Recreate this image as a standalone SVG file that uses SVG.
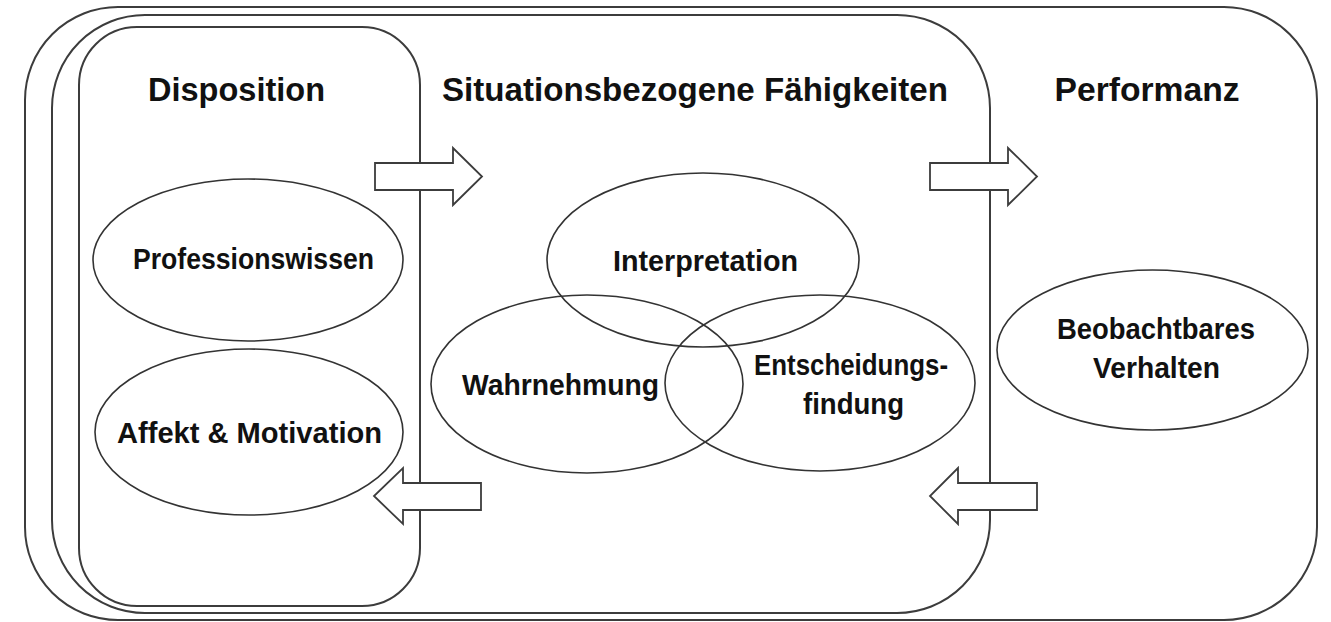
<svg xmlns="http://www.w3.org/2000/svg" width="1331" height="622" viewBox="0 0 1331 622">
<style>
.frame{fill:none;stroke:#3c3c3c;stroke-width:2}
.ell{fill:none;stroke:#333;stroke-width:1.6}
.arr{fill:#fff;stroke:#3c3c3c;stroke-width:1.8;stroke-linejoin:miter}
.title{font-family:"Liberation Sans",Arial,sans-serif;font-weight:bold;font-size:34px;fill:#111;text-anchor:middle}
.lbl{font-family:"Liberation Sans",Arial,sans-serif;font-weight:bold;font-size:29px;fill:#111;text-anchor:middle}
</style>
<rect width="1331" height="622" fill="#fff"/>
<g id="frames">
  <rect id="performanz-frame" class="frame" x="25" y="7" width="1292" height="613" rx="93" ry="93"/>
  <rect id="situation-frame" class="frame" x="52" y="15" width="938" height="598" rx="93" ry="93"/>
  <rect id="disposition-frame" class="frame" x="79" y="27" width="341" height="579" rx="58" ry="58"/>
</g>
<g id="titles">
  <text class="title" x="236.5" y="101" textLength="177" lengthAdjust="spacingAndGlyphs">Disposition</text>
  <text class="title" x="695" y="101" textLength="506" lengthAdjust="spacingAndGlyphs">Situationsbezogene Fähigkeiten</text>
  <text class="title" x="1147" y="101" textLength="185" lengthAdjust="spacingAndGlyphs">Performanz</text>
</g>
<g id="node-professionswissen">
  <ellipse class="ell" cx="248" cy="260" rx="155" ry="81"/>
  <text class="lbl" x="253.5" y="269" textLength="241" lengthAdjust="spacingAndGlyphs">Professionswissen</text>
</g>
<g id="node-affekt">
  <ellipse class="ell" cx="249" cy="432" rx="154" ry="83"/>
  <text class="lbl" x="249.5" y="443" textLength="265" lengthAdjust="spacingAndGlyphs">Affekt &amp; Motivation</text>
</g>
<g id="node-interpretation">
  <ellipse class="ell" cx="703" cy="260" rx="156" ry="87"/>
  <text class="lbl" x="705.5" y="271" textLength="185" lengthAdjust="spacingAndGlyphs">Interpretation</text>
</g>
<g id="node-wahrnehmung">
  <ellipse class="ell" cx="587" cy="384" rx="156" ry="89"/>
  <text class="lbl" x="560.5" y="395" textLength="197" lengthAdjust="spacingAndGlyphs">Wahrnehmung</text>
</g>
<g id="node-entscheidungsfindung">
  <ellipse class="ell" cx="820" cy="383" rx="155" ry="88"/>
  <text class="lbl" x="851" y="375" textLength="194" lengthAdjust="spacingAndGlyphs">Entscheidungs-</text>
  <text class="lbl" x="853.5" y="414" textLength="101" lengthAdjust="spacingAndGlyphs">findung</text>
</g>
<g id="node-verhalten">
  <ellipse class="ell" cx="1152.5" cy="350" rx="155.5" ry="80"/>
  <text class="lbl" x="1156" y="339" textLength="198" lengthAdjust="spacingAndGlyphs">Beobachtbares</text>
  <text class="lbl" x="1156.5" y="378" textLength="127" lengthAdjust="spacingAndGlyphs">Verhalten</text>
</g>
<g id="connectors">
  <path class="arr" d="M375,163 L453,163 L453,148 L482,176.5 L453,205 L453,190 L375,190 Z"/>
  <path class="arr" d="M930,163 L1008,163 L1008,148 L1037,176.5 L1008,205 L1008,190 L930,190 Z"/>
  <path class="arr" d="M1037,483 L958,483 L958,468 L930,496 L958,524 L958,510 L1037,510 Z"/>
  <path class="arr" d="M481,483 L403,483 L403,468 L374,496 L403,524 L403,510 L481,510 Z"/>
</g>
</svg>
